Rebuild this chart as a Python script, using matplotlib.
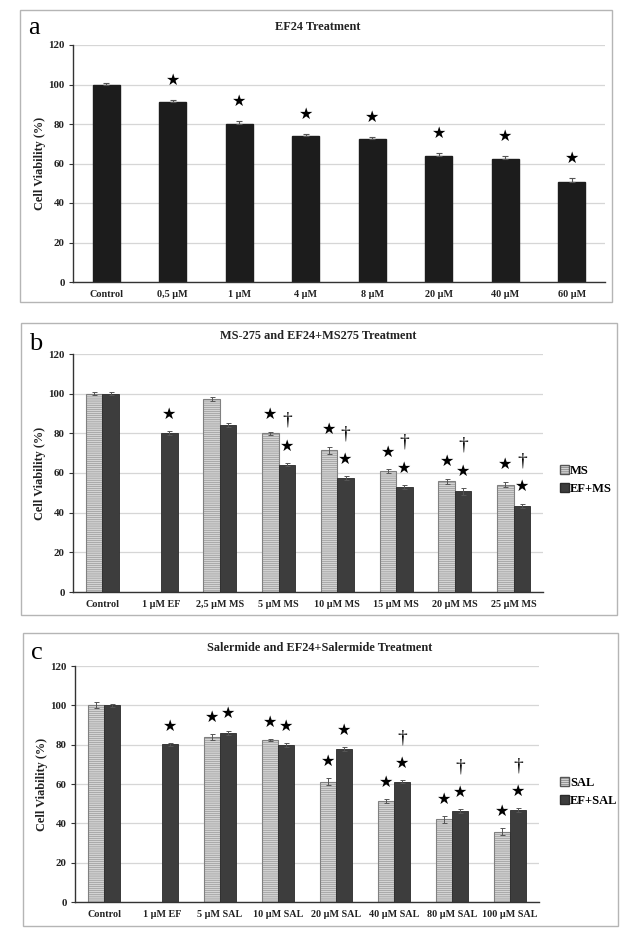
import numpy as np
import matplotlib
matplotlib.use("Agg")
import matplotlib.pyplot as plt
from matplotlib.patches import Rectangle, Patch

plt.rcParams['hatch.linewidth'] = 0.35

# ---------------- data ----------------
a_labels = ['Control', '0,5 µM', '1 µM', '4 µM', '8 µM', '20 µM', '40 µM', '60 µM']
a_vals = [100, 91, 80, 74, 72.5, 64, 62.5, 50.5]
a_err = [1.0, 1.2, 1.4, 1.0, 0.8, 1.3, 1.3, 2.2]
a_star = [False, True, True, True, True, True, True, True]

b_labels = ['Control', '1 µM EF', '2,5 µM MS', '5 µM MS', '10 µM MS', '15 µM MS', '20 µM MS', '25 µM MS']
b_ms = [100, np.nan, 97.5, 80, 71.5, 61, 55.8, 54.2]
b_ms_err = [0.8, 0, 1.0, 0.8, 1.8, 0.9, 1.3, 1.5]
b_ef = [100, 80, 84, 64.2, 57.3, 53, 50.8, 43.4]
b_ef_err = [0.8, 1.0, 1.0, 0.9, 1.0, 0.9, 1.7, 1.2]
b_ms_star = [False, False, False, True, True, True, True, True]
b_ef_star = [False, True, False, True, True, True, True, True]
b_dagger = [False, False, False, True, True, True, True, True]

c_labels = ['Control', '1 µM EF', '5 µM SAL', '10 µM SAL', '20 µM SAL', '40 µM SAL', '80 µM SAL', '100 µM SAL']
c_sal = [100, np.nan, 84, 82.4, 61.2, 51.4, 42.1, 35.7]
c_sal_err = [1.5, 0, 1.5, 0.5, 1.7, 1.0, 1.7, 1.8]
c_ef = [100, 80.2, 86, 80, 77.8, 61.1, 46.2, 46.9]
c_ef_err = [0.8, 0.8, 1.2, 1.0, 0.8, 0.8, 1.0, 1.0]
c_sal_star = [False, False, True, True, True, True, True, True]
c_ef_star = [False, True, True, True, True, True, True, True]
c_dagger = [False, False, False, False, False, True, True, True]

# ---------------- styling ----------------
SERIF = ['Liberation Serif', 'DejaVu Serif']
W, H = 631, 944
fig = plt.figure(figsize=(W / 100, H / 100), dpi=100)
fig.patch.set_facecolor('white')

def fx(px):
    return px / W

def fy(py):
    return 1 - py / H

def panel_box(x0, y0, x1, y1):
    fig.patches.append(Rectangle((fx(x0), fy(y1)), fx(x1) - fx(x0), fy(y0) - fy(y1),
                                 transform=fig.transFigure, fill=False,
                                 edgecolor='#b5b5b5', linewidth=1.0))

def make_axes(l, t, r, b):
    ax = fig.add_axes([fx(l), fy(b), fx(r) - fx(l), fy(t) - fy(b)])
    ax.set_ylim(0, 120)
    ax.set_yticks(range(0, 121, 20))
    ax.set_xlim(-0.5, 7.5)
    ax.yaxis.grid(True, color='#d6d6d6', linewidth=0.9)
    ax.set_axisbelow(True)
    for s in ['top', 'right']:
        ax.spines[s].set_visible(False)
    ax.spines['left'].set_color('#333333')
    ax.spines['bottom'].set_color('#333333')
    ax.spines['left'].set_linewidth(1.0)
    ax.spines['bottom'].set_linewidth(1.0)
    ax.tick_params(axis='y', length=3, width=0.8, color='#333333', pad=3)
    ax.tick_params(axis='x', length=0, pad=6)
    for lab in ax.get_yticklabels():
        lab.set_fontfamily(SERIF)
        lab.set_fontweight('bold')
        lab.set_fontsize(7.8)
        lab.set_color('#222222')
    ax.set_ylabel('Cell Viability (%)', fontfamily=SERIF, fontweight='bold',
                  fontsize=8.8, color='#222222', labelpad=1.5)
    return ax

def set_xlabels(ax, labels):
    ax.set_xticks(range(len(labels)))
    ax.set_xticklabels(labels, fontfamily=SERIF, fontweight='bold', fontsize=7.3, color='#222222')

def star(ax, x, y):
    ax.text(x, y, '★', ha='center', va='center', fontsize=11.5,
            fontfamily='DejaVu Sans', color='black')

def dagger(ax, x, y):
    ax.text(x, y, '†', ha='center', va='center', fontsize=14,
            fontfamily=SERIF, color='black')

LIGHT = '#d4d4d4'
LIGHT_EDGE = '#808080'
DARK = '#3d3d3d'
STAR_OFF = 8.5
DAG_OFF = 13

TITLE_KW = dict(fontfamily=SERIF, fontweight='bold', fontsize=8.8, color='#222222', pad=11)

# ---------------- panel a ----------------
panel_box(20, 10, 612, 302)
axa = make_axes(73, 45, 605, 282)
xa = np.arange(len(a_labels))
axa.bar(xa, a_vals, width=0.4, color='#1c1c1c', edgecolor='#1c1c1c', zorder=2)
axa.errorbar(xa, a_vals, yerr=[np.zeros(len(a_err)), a_err], fmt='none',
             ecolor='#555555', elinewidth=0.8, capsize=2, capthick=0.8, zorder=3)
for i, s in enumerate(a_star):
    if s:
        star(axa, xa[i], a_vals[i] + a_err[i] + 10)
set_xlabels(axa, a_labels)
axa.set_title('EF24 Treatment', x=(318 - 73) / (605 - 73), **TITLE_KW)
fig.text(fx(28), fy(28), 'a', fontfamily=SERIF, fontsize=19, va='center', ha='left')

# ---------------- grouped panels ----------------
def grouped(ax, labels, v1, e1, v2, e2, s1, s2, dg, name1, name2, legend_y):
    x = np.arange(len(labels))
    w = 0.28
    ax.bar(x - w / 2, v1, width=w, color=LIGHT, edgecolor=LIGHT_EDGE, linewidth=0.8,
           hatch='--------', zorder=2)
    ax.bar(x + w / 2, v2, width=w, color=DARK, edgecolor='#2a2a2a', linewidth=0.6, zorder=2)
    v1a = np.array(v1, dtype=float)
    e1a = np.array(e1, dtype=float)
    m = ~np.isnan(v1a)
    ax.errorbar((x - w / 2)[m], v1a[m], yerr=[e1a[m], e1a[m]], fmt='none',
                ecolor='#555555', elinewidth=0.7, capsize=1.8, capthick=0.7, zorder=3)
    ax.errorbar(x + w / 2, v2, yerr=[e2, e2], fmt='none',
                ecolor='#555555', elinewidth=0.7, capsize=1.8, capthick=0.7, zorder=3)
    for i in range(len(labels)):
        if s1[i]:
            star(ax, x[i] - w / 2, v1[i] + e1[i] + STAR_OFF)
        if s2[i]:
            ys = v2[i] + e2[i] + STAR_OFF
            star(ax, x[i] + w / 2, ys)
            if dg[i]:
                dagger(ax, x[i] + w / 2, ys + DAG_OFF)
    set_xlabels(ax, labels)
    handles = [Patch(facecolor=LIGHT, edgecolor='#555555', hatch='--------', label=name1),
               Patch(facecolor=DARK, edgecolor='#2a2a2a', label=name2)]
    fig.legend(handles=handles, loc='center left', bbox_to_anchor=(fx(549), fy(legend_y)),
               bbox_transform=fig.transFigure, frameon=False, handlelength=0.7,
               handleheight=0.7, handletextpad=0.1, labelspacing=0.45,
               prop={'family': SERIF, 'weight': 'bold', 'size': 9})

# panel b
panel_box(21, 323, 617, 615)
axb = make_axes(73, 354, 543, 592)
grouped(axb, b_labels, b_ms, b_ms_err, b_ef, b_ef_err, b_ms_star, b_ef_star, b_dagger,
        'MS', 'EF+MS', 480)
axb.set_title('MS-275 and EF24+MS275 Treatment', x=(318 - 73) / (543 - 73), **TITLE_KW)
fig.text(fx(29), fy(344), 'b', fontfamily=SERIF, fontsize=19, va='center', ha='left')

# panel c
panel_box(23, 633, 618, 926)
axc = make_axes(75, 666, 539, 902)
grouped(axc, c_labels, c_sal, c_sal_err, c_ef, c_ef_err, c_sal_star, c_ef_star, c_dagger,
        'SAL', 'EF+SAL', 792)
axc.set_title('Salermide and EF24+Salermide Treatment', x=(320 - 75) / (539 - 75), **TITLE_KW)
fig.text(fx(31), fy(653), 'c', fontfamily=SERIF, fontsize=19, va='center', ha='left')

fig.savefig('out.png', dpi=100)
